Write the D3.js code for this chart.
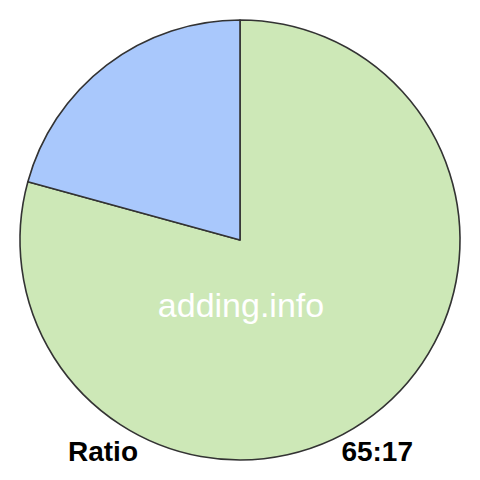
<!DOCTYPE html>
<html><head><meta charset="utf-8">
<script src="https://cdn.jsdelivr.net/npm/d3@7"></script>
<style>html,body{margin:0;padding:0;background:#fff;}</style>
</head><body>
<script>
const categories = ["A", "B"];
const values = [65, 17];
const colors = ["#cde8b7", "#a9c8fc"];
const watermark = "adding.info";
const labelLeft = "Ratio";
const labelRight = "65:17";

const W = 480, H = 480, cx = 240, cy = 240, R = 220;
const svg = d3.select("body").append("svg").attr("width", W).attr("height", H);
const pie = d3.pie().sort(null).value(d => d)(values);
const arc = d3.arc().innerRadius(0).outerRadius(R);
const g = svg.append("g").attr("transform", `translate(${cx},${cy})`);
g.selectAll("path").data(pie).enter().append("path")
  .attr("d", arc)
  .attr("fill", (d, i) => colors[i])
  .attr("stroke", "#333")
  .attr("stroke-width", 1.6)
  .attr("stroke-linejoin", "round");

svg.append("text").attr("x", 241).attr("y", 317).attr("text-anchor", "middle")
  .attr("font-family", "Liberation Sans, Arial, sans-serif").attr("font-size", 34)
  .attr("fill", "#fff").text(watermark);
svg.append("text").attr("x", 68).attr("y", 461)
  .attr("font-family", "Liberation Sans, Arial, sans-serif").attr("font-size", 28)
  .attr("font-weight", "bold").attr("fill", "#000").text(labelLeft);
svg.append("text").attr("x", 413).attr("y", 461).attr("text-anchor", "end")
  .attr("font-family", "Liberation Sans, Arial, sans-serif").attr("font-size", 28)
  .attr("font-weight", "bold").attr("fill", "#000").text(labelRight);
</script>
</body></html>
